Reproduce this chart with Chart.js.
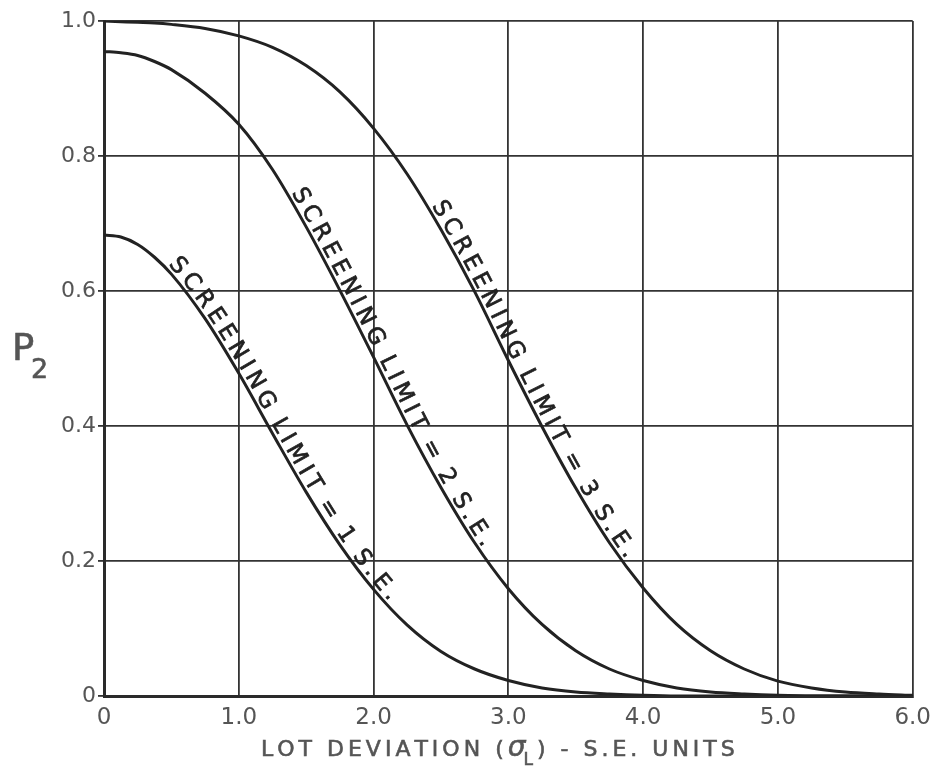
<!DOCTYPE html>
<html>
<head>
<meta charset="utf-8">
<script src="https://cdn.jsdelivr.net/npm/chart.js@4.4.0/dist/chart.umd.min.js"></script>
<style>
  html, body { margin: 0; padding: 0; background: #fff; }
  #wrap { width: 939px; height: 770px; position: relative; }
</style>
</head>
<body>
<div id="wrap"><canvas id="chart"></canvas></div>
<script>
// lot deviation in S.E. units
const xValues = [0, 0.125, 0.25, 0.375, 0.5, 0.75, 1.0, 1.25, 1.5, 1.75, 2.0, 2.25, 2.5, 2.75, 3.0,
                 3.25, 3.5, 3.75, 4.0, 4.25, 4.5, 4.75, 5.0, 5.25, 5.5, 5.75, 6.0];

// P2
const limit1 = [0.683, 0.680, 0.669, 0.650, 0.625, 0.559, 0.478, 0.389, 0.302, 0.224, 0.158, 0.105, 0.066, 0.040, 0.023,
                0.012, 0.006, 0.003, 0.001, 0, 0, 0, 0, 0, 0, 0, 0];
const limit2 = [0.955, 0.953, 0.949, 0.940, 0.928, 0.893, 0.847, 0.780, 0.695, 0.601, 0.502, 0.401, 0.309, 0.227, 0.159,
                0.106, 0.067, 0.040, 0.023, 0.012, 0.006, 0.003, 0.001, 0, 0, 0, 0];
const limit3 = [1.0, 0.999, 0.998, 0.997, 0.995, 0.989, 0.978, 0.961, 0.934, 0.895, 0.841, 0.773, 0.691, 0.599, 0.497,
                0.399, 0.308, 0.227, 0.160, 0.106, 0.067, 0.040, 0.022, 0.012, 0.006, 0.003, 0.001];

const curveLabels = ['SCREENING LIMIT = 1 S.E.', 'SCREENING LIMIT = 2 S.E.', 'SCREENING LIMIT = 3 S.E.'];
const labelStarts = [0.45, 1.36, 2.4];   // x value where each label begins

const xTicks = [0, 1, 2, 3, 4, 5, 6];
const xTickLabels = ['0', '1.0', '2.0', '3.0', '4.0', '5.0', '6.0'];
const yTicks = [0, 0.2, 0.4, 0.6, 0.8, 1.0];
const yTickLabels = ['0', '0.2', '0.4', '0.6', '0.8', '1.0'];

const yTitle = ['P', '2'];
const xTitle = ['LOT DEVIATION (', 'σ', 'L', ') - S.E. UNITS'];

const FONT = '"DejaVu Sans", "Liberation Sans", sans-serif';
const INK = '#222';
const GREY = '#555';

// draws text one letter at a time, slightly thickened like the lettering guide
function spacedText(ctx, str, x, y, spacing) {
    for (const ch of str) {
        ctx.fillText(ch, x, y);
        ctx.strokeText(ch, x, y);
        x += ctx.measureText(ch).width + spacing;
    }
    return x;
}

// writes each label letter by letter along its curve
const curveText = {
    id: 'curveText',
    afterDatasetsDraw(chart) {
        const ctx = chart.ctx;
        const xs = chart.scales.x;
        chart.data.datasets.forEach((ds, i) => {
            const pts = chart.getDatasetMeta(i).data;
            const path = [];
            for (let k = 0; k < pts.length - 1; k++) {
                const a = pts[k], b = pts[k + 1];
                const c1x = a.cp2x ?? a.x, c1y = a.cp2y ?? a.y;
                const c2x = b.cp1x ?? b.x, c2y = b.cp1y ?? b.y;
                for (let j = 0; j < 24; j++) {
                    const t = j / 24, u = 1 - t;
                    path.push({
                        x: u*u*u*a.x + 3*u*u*t*c1x + 3*u*t*t*c2x + t*t*t*b.x,
                        y: u*u*u*a.y + 3*u*u*t*c1y + 3*u*t*t*c2y + t*t*t*b.y
                    });
                }
            }
            path.push({ x: pts[pts.length - 1].x, y: pts[pts.length - 1].y });
            const len = [0];
            for (let k = 1; k < path.length; k++) {
                len.push(len[k - 1] + Math.hypot(path[k].x - path[k - 1].x, path[k].y - path[k - 1].y));
            }
            const at = (s) => {
                let k = 1;
                while (k < path.length - 1 && len[k] < s) k++;
                const p0 = path[k - 1], p1 = path[k];
                const f = (s - len[k - 1]) / ((len[k] - len[k - 1]) || 1);
                return { x: p0.x + (p1.x - p0.x) * f, y: p0.y + (p1.y - p0.y) * f,
                         a: Math.atan2(p1.y - p0.y, p1.x - p0.x) };
            };
            const startPx = xs.getPixelForValue(labelStarts[i]);
            let s = 0;
            for (let k = 0; k < path.length; k++) {
                if (path[k].x >= startPx) { s = len[k]; break; }
            }
            ctx.save();
            ctx.font = '23px ' + FONT;
            ctx.fillStyle = INK;
            ctx.strokeStyle = INK;
            ctx.lineWidth = 0.7;
            ctx.textAlign = 'center';
            ctx.textBaseline = 'alphabetic';
            for (const ch of curveLabels[i]) {
                const w = ch === ' ' ? 4 : ctx.measureText(ch).width;
                const p = at(s + w / 2);
                ctx.save();
                ctx.translate(p.x, p.y);
                ctx.rotate(p.a);
                ctx.fillText(ch, 0, -4);
                ctx.strokeText(ch, 0, -4);
                ctx.restore();
                s += w + 5;
            }
            ctx.restore();
        });
    }
};

const axisTitles = {
    id: 'axisTitles',
    afterDraw(chart) {
        const ctx = chart.ctx;
        const area = chart.chartArea;
        ctx.save();
        ctx.fillStyle = GREY;
        ctx.strokeStyle = GREY;
        ctx.lineWidth = 0.6;
        ctx.textBaseline = 'alphabetic';
        ctx.textAlign = 'left';
        // P2
        ctx.font = '37px ' + FONT;
        spacedText(ctx, yTitle[0], area.left - 92, 360, 0);
        ctx.font = '27px ' + FONT;
        spacedText(ctx, yTitle[1], area.left - 73, 378, 0);
        // x title
        let x = area.left + 157;
        const y = area.bottom + 60;
        ctx.font = '22px ' + FONT;
        x = spacedText(ctx, xTitle[0], x, y, 4);
        ctx.font = 'italic 28px ' + FONT;
        x = spacedText(ctx, xTitle[1], x, y, 0);
        ctx.font = '17px ' + FONT;
        x = spacedText(ctx, xTitle[2], x - 2, y + 9, 4);
        ctx.font = '22px ' + FONT;
        spacedText(ctx, xTitle[3], x, y, 4);
        ctx.restore();
    }
};

const lineStyle = {
    borderColor: INK,
    borderWidth: 3,
    pointRadius: 0,
    fill: false,
    cubicInterpolationMode: 'monotone'
};

new Chart(document.getElementById('chart'), {
    type: 'line',
    data: {
        datasets: [
            { label: curveLabels[0], data: xValues.map((x, i) => ({ x, y: limit1[i] })), ...lineStyle },
            { label: curveLabels[1], data: xValues.map((x, i) => ({ x, y: limit2[i] })), ...lineStyle },
            { label: curveLabels[2], data: xValues.map((x, i) => ({ x, y: limit3[i] })), ...lineStyle }
        ]
    },
    options: {
        responsive: true,
        maintainAspectRatio: false,
        animation: false,
        layout: { padding: { left: 0, right: 23, top: 21, bottom: 0 } },
        plugins: {
            legend: { display: false },
            tooltip: { enabled: false }
        },
        scales: {
            x: {
                type: 'linear',
                min: 0,
                max: 6,
                afterBuildTicks: s => { s.ticks = xTicks.map(v => ({ value: v })); },
                afterFit: s => { s.height = 74; },
                ticks: {
                    padding: 8,
                    color: GREY,
                    font: { family: FONT, size: 23 },
                    maxRotation: 0,
                    callback: v => xTickLabels[xTicks.indexOf(v)]
                },
                grid: { color: '#333', lineWidth: 1.8, drawTicks: false, tickLength: 0 },
                border: { display: true, color: '#2a2a2a', width: 3 }
            },
            y: {
                type: 'linear',
                min: 0,
                max: 1,
                afterBuildTicks: s => { s.ticks = yTicks.map(v => ({ value: v })); },
                afterFit: s => { s.width = 104; },
                ticks: {
                    padding: 2,
                    color: GREY,
                    font: { family: FONT, size: 22 },
                    callback: v => yTickLabels[yTicks.indexOf(v)]
                },
                grid: { color: '#333', lineWidth: 1.8, drawTicks: true, tickLength: 6 },
                border: { display: true, color: '#2a2a2a', width: 3 }
            }
        }
    },
    plugins: [curveText, axisTitles]
});
</script>
</body>
</html>
